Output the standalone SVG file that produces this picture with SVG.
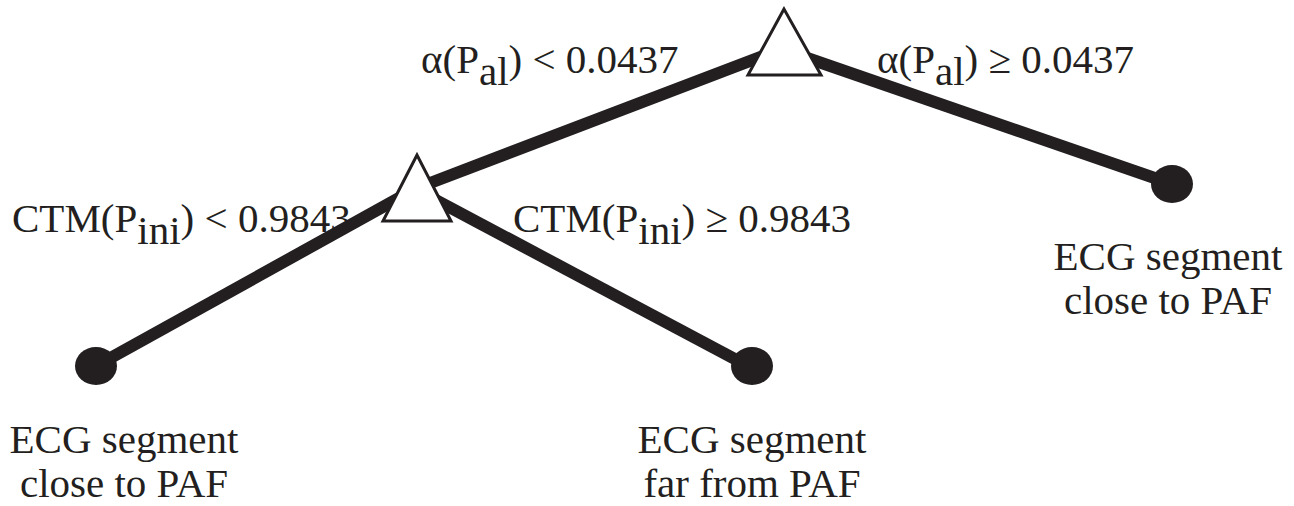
<svg xmlns="http://www.w3.org/2000/svg" width="1294" height="506" viewBox="0 0 1294 506">
<style>
.edge{stroke:#231f20;stroke-width:12;stroke-linecap:butt;fill:none}
.tri{fill:#fff;stroke:#231f20;stroke-width:3;stroke-linejoin:miter}
.leaf{fill:#231f20}
text{font-family:"Liberation Serif","Times New Roman",serif;font-size:41px;fill:#231f20}
.c{text-anchor:middle}
</style>
<rect width="1294" height="506" fill="#fff"/>
<g id="connectors">
<line class="edge" x1="784" y1="48" x2="417" y2="188"/>
<line class="edge" x1="784" y1="50" x2="1172" y2="184"/>
<line class="edge" x1="417" y1="188" x2="96" y2="366"/>
<line class="edge" x1="417" y1="190" x2="748" y2="366"/>
</g>
<g id="split-root">
<polygon class="tri" points="784,9 748,75 821,75"/>
</g>
<g id="split-ctm">
<polygon class="tri" points="417,155 383,221 451,221"/>
</g>
<g id="leaf-right">
<ellipse class="leaf" cx="1172" cy="184" rx="21" ry="19"/>
<text class="c" x="1168" y="270">ECG segment</text>
<text class="c" x="1168" y="314">close to PAF</text>
</g>
<g id="leaf-left">
<ellipse class="leaf" cx="96" cy="366" rx="21" ry="19"/>
<text class="c" x="124" y="453">ECG segment</text>
<text class="c" x="124" y="497">close to PAF</text>
</g>
<g id="leaf-mid">
<ellipse class="leaf" cx="752" cy="366" rx="21" ry="19"/>
<text class="c" x="752" y="453">ECG segment</text>
<text class="c" x="752" y="497">far from PAF</text>
</g>
<g id="labels">
<text x="421" y="73">α(P<tspan dy="12">al</tspan><tspan dy="-12">) &lt; 0.0437</tspan></text>
<text x="877" y="73">α(P<tspan dy="12">al</tspan><tspan dy="-12">) ≥ 0.0437</tspan></text>
<text x="12" y="232">CTM(P<tspan dy="12">ini</tspan><tspan dy="-12">) &lt; 0.9843</tspan></text>
<text x="513" y="232">CTM(P<tspan dy="12">ini</tspan><tspan dy="-12">) ≥ 0.9843</tspan></text>
</g>
</svg>
